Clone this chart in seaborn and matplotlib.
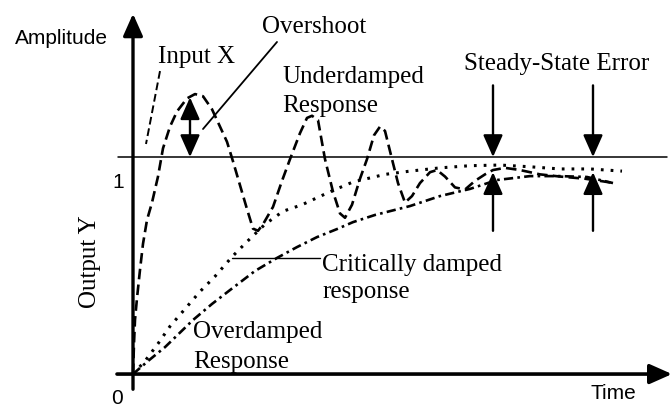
import numpy as np
import pandas as pd
import seaborn as sns
import matplotlib.pyplot as plt

# step responses (time in arbitrary units, amplitude relative to input = 1)
under_t = [0, 0.1, 0.2, 0.4, 0.7, 1.0, 1.4, 1.9, 2.5, 3.0,
           3.7, 4.4, 5.4, 6.2, 7.0, 7.9, 8.7, 9.4, 10.0, 10.7,
           11.4, 12.0, 12.5, 13.0, 14.0, 14.9, 15.7, 16.7, 17.4, 17.9,
           18.5, 19.2, 20.0, 20.7, 21.2, 21.9, 22.7, 23.4, 24.1, 24.7,
           25.2, 25.9, 26.5, 27.2, 27.9, 28.7, 29.7, 30.4, 31.2, 32.2,
           33.2, 34.2, 35.2, 36.0, 37.2, 38.7, 40.7, 42.7, 45.2, 46.7,
           48.1]
under_y = [0, 0.14, 0.25, 0.35, 0.48, 0.60, 0.71, 0.79, 0.91, 1.04,
           1.14, 1.21, 1.27, 1.29, 1.28, 1.22, 1.14, 1.07, 0.98, 0.87,
           0.76, 0.67, 0.66, 0.69, 0.77, 0.89, 0.99, 1.11, 1.18, 1.19,
           1.17, 0.99, 0.84, 0.74, 0.72, 0.78, 0.90, 0.99, 1.10, 1.14,
           1.12, 0.99, 0.88, 0.79, 0.82, 0.88, 0.93, 0.94, 0.91, 0.86,
           0.85, 0.89, 0.92, 0.94, 0.95, 0.94, 0.92, 0.91, 0.90, 0.89,
           0.88]

crit_t = [0, 1.2, 2.5, 3.7, 5.2, 6.7, 8.2, 9.9, 11.4, 13.2, 15.0, 16.9,
          19.7, 22.0, 25.2, 27.7, 30.7, 33.7, 36.7, 39.7, 42.7, 45.7, 48.9]
crit_y = [0, 0.06, 0.14, 0.22, 0.30, 0.38, 0.45, 0.54, 0.61, 0.69, 0.75, 0.78,
          0.84, 0.885, 0.92, 0.935, 0.95, 0.96, 0.963, 0.955, 0.945, 0.945, 0.935]

over_t = [0, 1.5, 3.2, 6.0, 7.9, 9.7, 12.2, 14.4, 16.4, 18.4, 20.4,
          22.0, 24.2, 27.7, 30.7, 33.7, 36.4, 39.7, 42.7, 45.4, 48.0]
over_y = [0, 0.06, 0.124, 0.249, 0.323, 0.387, 0.475, 0.535, 0.585, 0.631, 0.668,
          0.700, 0.733, 0.774, 0.820, 0.853, 0.894, 0.912, 0.912, 0.908, 0.880]

sse_times = [36.0, 46.0]      # where the steady-state error arrows sit
sse_curve = [0.93, 0.93]      # level the upward arrows point at

sns.set_style('white')
plt.rcParams['font.family'] = ['Liberation Serif', 'DejaVu Serif']

fig = plt.figure(figsize=(6.72, 4.10), dpi=100)
ax = fig.add_axes([0, 0, 1, 1])
ax.set_xlim(-13.3, 53.9)
ax.set_ylim(-0.161, 1.728)
ax.axis('off')

sns.lineplot(x=under_t, y=under_y, ax=ax, color='black', lw=1.9,
             linestyle=(0, (4, 2)), sort=False, estimator=None)
sns.lineplot(x=crit_t, y=crit_y, ax=ax, color='black', lw=2.2,
             linestyle=(0, (0.9, 2.3)), sort=False, estimator=None)
sns.lineplot(x=over_t, y=over_y, ax=ax, color='black', lw=1.9,
             linestyle=(0, (3.5, 1.6, 1, 1.6)), sort=False, estimator=None)

# axes with arrows
head = '-|>,head_length=0.9,head_width=0.4'
ax.annotate('', xy=(0, 1.66), xytext=(0, -0.07),
            arrowprops=dict(arrowstyle=head, mutation_scale=15, lw=2.4,
                            color='black', shrinkA=0, shrinkB=0))
ax.annotate('', xy=(53.9, 0), xytext=(-1.6, 0),
            arrowprops=dict(arrowstyle=head, mutation_scale=15, lw=2.6,
                            color='black', shrinkA=0, shrinkB=0))
# input step level
ax.plot([-1.5, 53.4], [1, 1], color='black', lw=1.1)

# overshoot double arrow
ax.annotate('', xy=(5.7, 1.275), xytext=(5.7, 1.0),
            arrowprops=dict(arrowstyle='<|-|>,head_length=0.9,head_width=0.4',
                            mutation_scale=15, lw=1.7, color='black',
                            shrinkA=0, shrinkB=0))

# steady-state error arrows
for t, yc in zip(sse_times, sse_curve):
    ax.annotate('', xy=(t, 1.0), xytext=(t, 1.33),
                arrowprops=dict(arrowstyle=head, mutation_scale=15, lw=1.7,
                                color='black', shrinkA=0, shrinkB=0))
    ax.annotate('', xy=(t, yc), xytext=(t, 0.66),
                arrowprops=dict(arrowstyle=head, mutation_scale=15, lw=1.7,
                                color='black', shrinkA=0, shrinkB=0))

# leader lines
ax.plot([2.7, 1.3], [1.396, 1.06], color='black', lw=1.4, linestyle=(0, (4, 2)))
ax.plot([14.4, 7.0], [1.53, 1.129], color='black', lw=1.3)
ax.plot([9.9, 18.7], [0.535, 0.535], color='black', lw=1.0)

serif = dict(fontsize=18, family=['Liberation Serif'], color='black')
sans = dict(fontsize=15, family=['Liberation Sans'], color='black')

ax.text(-11.8, 1.551, 'Amplitude', ha='left', va='center', **sans)
ax.text(-1.5, 0.885, '1', ha='center', va='center', **sans)
ax.text(-1.6, -0.106, '0', ha='center', va='center', **sans)
ax.text(48.0, -0.085, 'Time', ha='center', va='center', **sans)
ax.text(-4.3, 0.521, 'Output Y', rotation=90, ha='center', va='center', **serif)

ax.text(2.5, 1.438, 'Input X', ha='left', va='baseline', **serif)
ax.text(12.9, 1.576, 'Overshoot', ha='left', va='baseline', **serif)
ax.text(14.9, 1.346, 'Underdamped', ha='left', va='baseline', **serif)
ax.text(14.9, 1.212, 'Response', ha='left', va='baseline', **serif)
ax.text(33.1, 1.406, 'Steady-State Error', ha='left', va='baseline', **serif)
ax.text(18.9, 0.479, 'Critically damped', ha='left', va='baseline', **serif)
ax.text(18.9, 0.355, 'response', ha='left', va='baseline', **serif)
ax.text(6.0, 0.171, 'Overdamped', ha='left', va='baseline', **serif)
ax.text(6.0, 0.032, 'Response', ha='left', va='baseline', **serif)

fig.savefig('out.png', dpi=100)
